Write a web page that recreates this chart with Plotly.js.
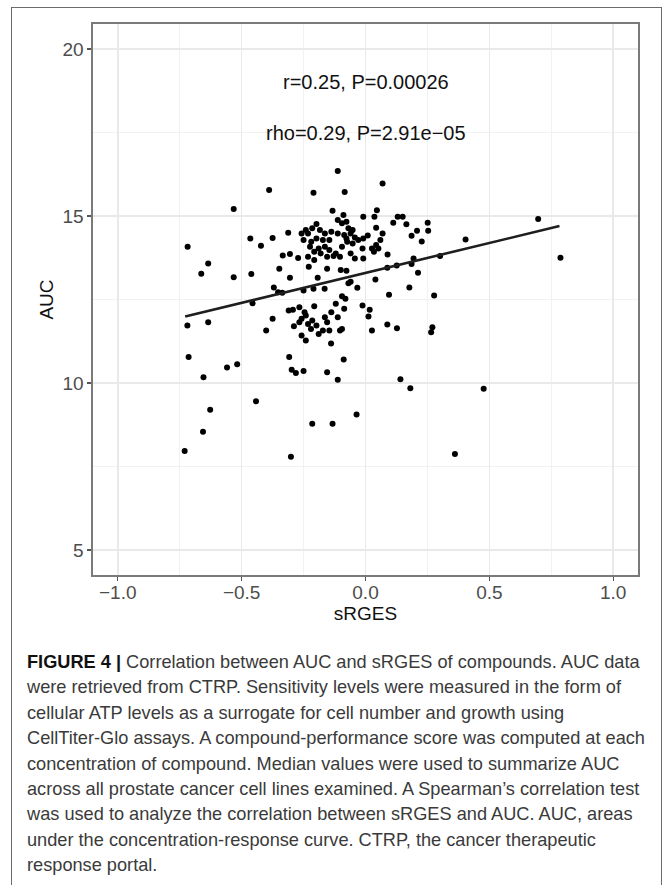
<!DOCTYPE html>
<html>
<head>
<meta charset="utf-8">
<script src="https://cdn.plot.ly/plotly-3.0.1.min.js"></script>
<style>
  html, body { margin: 0; padding: 0; background: #fff; }
  body { width: 668px; height: 885px; position: relative; overflow: hidden; font-family: "Liberation Sans", Arial, sans-serif; }
  #frame { position: absolute; left: 11px; top: 7px; width: 651px; height: 900px; border: 1.3px solid #6b6b6b; box-sizing: border-box; }
  #plot { position: absolute; left: 0; top: 0; width: 668px; height: 625px; }
  #caption { position: absolute; left: 27px; top: 650px; font-size: 18.2px; line-height: 25.4px; color: #3a3a3a; white-space: nowrap; }
  #caption b { color: #111; }
</style>
</head>
<body>
<div id="frame"></div>
<div id="plot"></div>
<div id="caption">
<b>FIGURE 4 |</b> Correlation between AUC and sRGES of compounds. AUC data<br>
were retrieved from CTRP. Sensitivity levels were measured in the form of<br>
cellular ATP levels as a surrogate for cell number and growth using<br>
CellTiter-Glo assays. A compound-performance score was computed at each<br>
concentration of compound. Median values were used to summarize AUC<br>
across all prostate cancer cell lines examined. A Spearman’s correlation test<br>
was used to analyze the correlation between sRGES and AUC. AUC, areas<br>
under the concentration-response curve. CTRP, the cancer therapeutic<br>
response portal.
</div>
<script>
// sRGES values of compounds
const sRGES = [
 -0.112,0.069,-0.389,-0.210,-0.084,-0.532,-0.133,0.046,0.697,-0.089,
 -0.009,0.036,0.130,0.150,0.251,0.253,0.208,0.186,0.227,0.165,
 0.112,0.043,0.069,0.404,0.787,-0.718,-0.635,-0.663,-0.532,-0.465,
 -0.422,-0.375,-0.312,-0.461,-0.348,-0.305,-0.334,-0.305,-0.272,-0.229,
 -0.193,-0.155,-0.100,-0.077,-0.060,-0.033,0.040,0.089,0.088,0.126,
 0.186,0.194,0.212,0.177,0.095,0.277,0.301,-0.210,-0.165,-0.370,
 -0.336,-0.095,
 -0.241,-0.232,-0.215,-0.198,-0.184,-0.164,-0.138,-0.112,-0.095,-0.077,
 -0.069,-0.060,-0.052,-0.043,-0.029,-0.009,0.009,-0.012,-0.052,-0.074,
 -0.095,-0.120,-0.146,-0.164,-0.189,-0.207,-0.224,-0.219,-0.198,-0.172,
 -0.146,-0.112,-0.086,-0.077,-0.060,-0.043,-0.009,0.026,0.043,0.052,
 0.034,0.060,-0.103,-0.129,-0.155,-0.181,-0.207,-0.232,-0.258,-0.250,
 -0.719,-0.635,-0.714,-0.559,-0.518,-0.654,-0.627,-0.656,-0.730,-0.442,
 -0.401,-0.375,-0.456,-0.308,-0.298,-0.281,-0.250,-0.155,-0.112,-0.088,
 -0.139,-0.215,-0.133,-0.036,-0.301,0.361,0.477,0.181,0.141,0.088,
 0.127,0.270,0.265,0.026,0.012,0.017,-0.012,
 -0.310,-0.293,-0.267,-0.246,-0.258,-0.241,-0.215,-0.207,-0.232,-0.289,
 -0.258,-0.241,-0.220,-0.198,-0.189,-0.172,-0.155,-0.138,-0.120,-0.112,
 -0.103,-0.095,-0.086,-0.081,-0.146,-0.164,-0.267,
 -0.353,-0.250,-0.069
];
// AUC values of compounds
const AUC = [
 16.35,15.97,15.78,15.70,15.72,15.21,15.16,15.17,14.91,15.03,
 14.98,14.98,14.98,14.98,14.80,14.56,14.56,14.41,14.24,14.75,
 14.80,14.65,14.48,14.30,13.75,14.08,13.58,13.27,13.17,14.33,
 14.11,14.34,14.50,13.26,13.42,13.15,13.82,13.86,13.74,13.48,
 13.15,13.42,13.38,13.36,13.03,12.85,13.10,13.85,13.45,13.52,
 13.56,13.73,13.30,12.86,12.64,12.62,13.80,12.82,12.82,12.86,
 12.70,12.60,
 14.58,14.48,14.63,14.76,14.58,14.48,14.53,14.88,14.78,14.83,
 14.63,14.48,14.58,14.36,14.28,14.33,14.42,14.03,14.18,14.23,
 14.08,13.88,13.98,14.08,14.03,13.93,14.08,14.23,14.33,14.28,
 14.28,14.48,14.43,14.33,13.88,13.73,13.73,14.03,14.13,14.03,
 13.93,14.28,13.78,13.80,13.78,13.88,13.68,13.78,14.48,14.28,
 11.72,11.82,10.78,10.46,10.56,10.17,9.20,8.54,7.96,9.45,
 11.57,11.92,12.39,10.78,10.40,10.30,10.36,10.32,10.10,10.70,
 11.18,8.78,8.78,9.06,7.79,7.87,9.83,9.84,10.11,11.75,
 11.64,11.67,11.52,11.57,11.99,12.19,12.32,
 12.17,12.19,12.27,12.12,11.92,12.02,11.87,12.30,11.77,11.70,
 11.42,11.27,11.62,11.72,11.47,11.57,11.82,12.12,12.37,11.97,
 11.57,11.62,12.22,12.52,11.57,11.97,11.82,
 12.72,12.77,12.99
];
// fitted linear regression line
const fitX = [-0.728, 0.783];
const fitY = [11.99, 14.70];
const xTicks = [-1.0, -0.5, 0.0, 0.5, 1.0];
const yTicks = [5, 10, 15, 20];
const statLines = ["r=0.25, P=0.00026", "rho=0.29, P=2.91e\u221205"];

const traces = [
  { x: sRGES, y: AUC, type: 'scatter', mode: 'markers',
    marker: { color: '#000', size: 6 }, hoverinfo: 'skip', showlegend: false },
  { x: fitX, y: fitY, type: 'scatter', mode: 'lines',
    line: { color: '#1e1e1e', width: 2.6 }, hoverinfo: 'skip', showlegend: false }
];

const axisCommon = {
  showline: true, mirror: true, linecolor: '#7a7a7a', linewidth: 1.6,
  showgrid: true, gridcolor: '#e9e9e9', gridwidth: 1.6,
  zeroline: false, ticks: 'outside', ticklen: 4, tickwidth: 1.2, tickcolor: '#555',
  tickfont: { family: 'Liberation Sans, Arial, sans-serif', size: 19, color: '#4d4d4d' }
};

const layout = {
  width: 668, height: 625,
  margin: { l: 93, r: 30, t: 24, b: 50 },
  paper_bgcolor: 'rgba(0,0,0,0)', plot_bgcolor: '#fff',
  xaxis: Object.assign({}, axisCommon, {
    range: [-1.1, 1.1], tickmode: 'array', tickvals: xTicks,
    ticktext: xTicks.map(v => (v < 0 ? '\u2212' : '') + Math.abs(v).toFixed(1)),
    ticklabelstandoff: -4,
    minor: { tickvals: [-0.75, -0.25, 0.25, 0.75], showgrid: true, gridcolor: '#f2f2f2', gridwidth: 1.2, ticks: '' },
    title: { text: 'sRGES', standoff: 0, font: { family: 'Liberation Sans, Arial, sans-serif', size: 19, color: '#111' } }
  }),
  yaxis: Object.assign({}, axisCommon, {
    range: [4.25, 20.75], tickmode: 'array', tickvals: yTicks,
    minor: { tickvals: [7.5, 12.5, 17.5], showgrid: true, gridcolor: '#f2f2f2', gridwidth: 1.2, ticks: '' },
    title: { text: 'AUC', standoff: 4, font: { family: 'Liberation Sans, Arial, sans-serif', size: 19, color: '#111' } }
  }),
  annotations: statLines.map((t, i) => ({
    x: 0, y: i === 0 ? 19.0 : 17.5, xref: 'x', yref: 'y', text: t, showarrow: false,
    font: { family: 'Liberation Sans, Arial, sans-serif', size: 20, color: '#111' }
  }))
};

Plotly.newPlot('plot', traces, layout, { staticPlot: true, displayModeBar: false });
</script>
</body>
</html>
